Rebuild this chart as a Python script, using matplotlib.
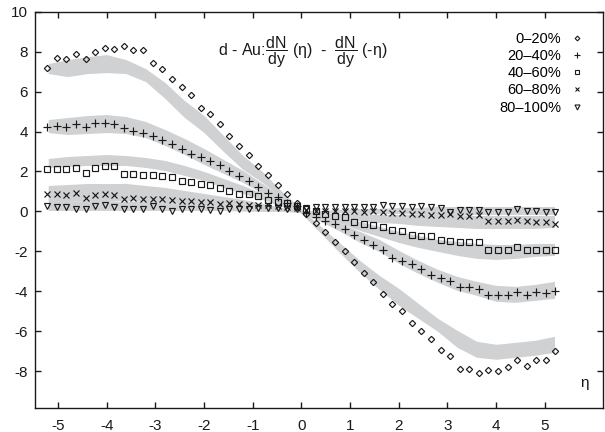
import matplotlib
matplotlib.use("Agg")
import matplotlib.pyplot as plt
from matplotlib.lines import Line2D

plt.rcParams["font.family"] = ["Liberation Sans", "DejaVu Sans"]
plt.rcParams["mathtext.fontset"] = "custom"
plt.rcParams["mathtext.rm"] = "Liberation Sans"
plt.rcParams["mathtext.it"] = "Liberation Sans:italic"
plt.rcParams["axes.unicode_minus"] = False

# pseudorapidity of the measured points
eta = [-5.22, -5.02, -4.83, -4.63, -4.43, -4.24, -4.04, -3.84, -3.65, -3.45,
       -3.25, -3.05, -2.86, -2.66, -2.46, -2.27, -2.07, -1.87, -1.67, -1.48,
       -1.28, -1.08, -0.89, -0.69, -0.49, -0.30, -0.10,
       0.10, 0.30, 0.49, 0.69, 0.89, 1.08, 1.28, 1.48, 1.67, 1.87,
       2.07, 2.27, 2.46, 2.66, 2.86, 3.05, 3.25, 3.45, 3.65, 3.84,
       4.04, 4.24, 4.43, 4.63, 4.83, 5.02, 5.22]

c0_20 = [7.20, 7.67, 7.64, 7.90, 7.64, 7.97, 8.20, 8.14, 8.30, 8.10,
         8.10, 7.43, 7.13, 6.63, 6.22, 5.82, 5.18, 4.87, 4.37, 3.76,
         3.29, 2.82, 2.25, 1.81, 1.30, 0.88, 0.42,
         -0.13, -0.58, -1.05, -1.52, -1.98, -2.55, -3.08, -3.54, -4.11, -4.64,
         -4.96, -5.57, -5.97, -6.39, -6.91, -7.23, -7.90, -7.87, -8.09, -7.95,
         -8.00, -7.79, -7.45, -7.74, -7.45, -7.45, -7.00]
c20_40 = [4.25, 4.30, 4.25, 4.37, 4.25, 4.42, 4.42, 4.39, 4.17, 4.05,
          3.93, 3.79, 3.60, 3.39, 3.15, 2.90, 2.75, 2.55, 2.30, 2.02,
          1.78, 1.50, 1.20, 0.90, 0.72, 0.44, 0.25,
          -0.10, -0.28, -0.46, -0.61, -0.87, -1.17, -1.44, -1.69, -1.93, -2.31,
          -2.47, -2.65, -2.88, -3.16, -3.35, -3.49, -3.77, -3.80, -3.90, -4.17,
          -4.20, -4.20, -4.02, -4.17, -4.02, -4.08, -4.00]
c40_60 = [2.12, 2.12, 2.10, 2.15, 1.94, 2.15, 2.25, 2.25, 1.88, 1.88,
          1.84, 1.82, 1.78, 1.73, 1.52, 1.47, 1.39, 1.30, 1.17, 1.00,
          0.88, 0.88, 0.77, 0.55, 0.49, 0.40, 0.25,
          0.10, 0.04, -0.13, -0.21, -0.29, -0.52, -0.63, -0.68, -0.80, -0.92,
          -0.97, -1.19, -1.22, -1.25, -1.45, -1.50, -1.55, -1.55, -1.55, -1.95,
          -1.95, -1.95, -1.80, -1.92, -1.92, -1.92, -1.92]
c60_80 = [0.88, 0.88, 0.80, 0.92, 0.67, 0.80, 0.88, 0.80, 0.63, 0.67,
          0.63, 0.60, 0.60, 0.55, 0.50, 0.50, 0.46, 0.46, 0.38, 0.42,
          0.38, 0.33, 0.30, 0.30, 0.26, 0.22, 0.18,
          0.05, 0.00, 0.00, 0.00, 0.00, 0.00, -0.02, 0.00, -0.05, -0.08,
          -0.08, -0.13, -0.13, -0.18, -0.18, -0.13, -0.21, -0.23, -0.18, -0.46,
          -0.46, -0.46, -0.41, -0.50, -0.55, -0.55, -0.63]
c80_100 = [0.27, 0.23, 0.23, 0.10, 0.10, 0.27, 0.33, 0.23, 0.13, 0.13,
           0.13, 0.27, 0.10, 0.00, 0.13, 0.13, 0.13, 0.09, 0.04, 0.13,
           0.13, 0.13, 0.16, 0.16, 0.16, 0.13, 0.13,
           0.15, 0.20, 0.20, 0.20, 0.20, 0.20, 0.20, 0.20, 0.30, 0.25,
           0.25, 0.21, 0.26, 0.21, 0.16, -0.04, 0.09, 0.09, 0.09, -0.04,
           -0.01, -0.01, 0.12, 0.04, 0.04, -0.01, -0.04]

# model bands (grey), coarser eta grid
band_eta = [-5.2, -4.8, -4.4, -4.0, -3.6, -3.2, -2.8, -2.4, -2.0, -1.6, -1.2, -0.8, -0.4,
            0.0, 0.4, 0.8, 1.2, 1.6, 2.0, 2.4, 2.8, 3.2, 3.6, 4.0, 4.4, 4.8, 5.2]
b0_20_hi = [7.40, 7.60, 7.75, 7.85, 7.60, 7.15, 6.45, 5.55, 4.80, 3.80, 2.80, 2.00, 1.00,
            0.10, -0.75, -1.60, -2.45, -3.20, -3.85, -4.60, -5.35, -5.95, -6.50, -6.65, -6.55, -6.45, -6.25]
b0_20_lo = [6.90, 6.75, 6.90, 6.95, 6.90, 6.50, 5.65, 4.70, 3.95, 3.00, 2.10, 1.45, 0.65,
            -0.10, -1.10, -2.10, -3.05, -3.90, -4.70, -5.35, -6.00, -6.80, -7.30, -7.40, -7.30, -7.20, -7.05]
b20_40_hi = [4.60, 4.70, 4.80, 4.85, 4.75, 4.50, 4.10, 3.65, 3.15, 2.60, 2.05, 1.40, 0.70,
             0.10, -0.25, -0.60, -1.00, -1.40, -1.95, -2.45, -2.90, -3.25, -3.50, -3.70, -3.75, -3.65, -3.50]
b20_40_lo = [3.95, 3.85, 3.90, 3.95, 3.90, 3.70, 3.30, 2.85, 2.35, 1.90, 1.45, 0.90, 0.40,
             -0.10, -0.50, -1.00, -1.55, -2.00, -2.60, -3.10, -3.55, -3.95, -4.20, -4.50, -4.55, -4.45, -4.35]
b40_60_hi = [2.65, 2.75, 2.80, 2.85, 2.80, 2.70, 2.55, 2.30, 2.00, 1.65, 1.30, 0.90, 0.45,
             0.05, -0.10, -0.30, -0.50, -0.75, -1.00, -1.20, -1.40, -1.50, -1.60, -1.65, -1.65, -1.60, -1.60]
b40_60_lo = [2.20, 2.25, 2.30, 2.30, 2.30, 2.20, 2.05, 1.80, 1.55, 1.20, 0.90, 0.60, 0.25,
             -0.05, -0.30, -0.60, -0.95, -1.25, -1.55, -1.80, -2.00, -2.20, -2.35, -2.40, -2.35, -2.25, -2.20]
b60_80_hi = [1.30, 1.35, 1.40, 1.40, 1.40, 1.30, 1.20, 1.05, 0.90, 0.75, 0.60, 0.40, 0.20,
             0.05, -0.05, -0.10, -0.10, -0.15, -0.15, -0.15, -0.15, -0.15, -0.20, -0.20, -0.20, -0.20, -0.20]
b60_80_lo = [0.50, 0.50, 0.55, 0.55, 0.55, 0.50, 0.45, 0.40, 0.35, 0.30, 0.25, 0.15, 0.05,
             -0.05, -0.20, -0.35, -0.45, -0.55, -0.60, -0.70, -0.75, -0.80, -0.85, -0.85, -0.85, -0.85, -0.80]
b80_100_hi = [0.50, 0.50, 0.55, 0.55, 0.50, 0.50, 0.45, 0.40, 0.35, 0.30, 0.25, 0.15, 0.10,
              0.05, 0.05, 0.10, 0.15, 0.15, 0.20, 0.20, 0.25, 0.25, 0.25, 0.25, 0.25, 0.25, 0.25]
b80_100_lo = [0.05, 0.05, 0.05, 0.05, 0.05, 0.05, 0.05, 0.05, 0.05, 0.05, 0.02, 0.00, 0.00,
              -0.05, -0.05, -0.05, -0.10, -0.10, -0.10, -0.15, -0.15, -0.15, -0.15, -0.15, -0.15, -0.15, -0.15]

labels = ["0\u201320%", "20\u201340%", "40\u201360%", "60\u201380%", "80\u2013100%"]
series = [c0_20, c20_40, c40_60, c60_80, c80_100]
bands = [(b0_20_lo, b0_20_hi), (b20_40_lo, b20_40_hi), (b40_60_lo, b40_60_hi),
         (b60_80_lo, b60_80_hi), (b80_100_lo, b80_100_hi)]
markers = ["D", "+", "s", "x", "v"]
msizes = [3.2, 6.0, 4.2, 3.8, 4.8]
BAND = "#d0d1d3"
INK = "#1a1a1a"

fig = plt.figure(figsize=(6.05, 4.32), dpi=100)
ax = fig.add_axes([0.058, 0.055, 0.939, 0.918])

for lo, hi in bands:
    ax.fill_between(band_eta, lo, hi, color=BAND, linewidth=0, zorder=1)

handles = []
for vals, m, ms, lab in zip(series, markers, msizes, labels):
    ax.plot(eta, vals, linestyle="none", marker=m, markersize=ms,
            markerfacecolor="none", markeredgecolor=INK, markeredgewidth=0.85, zorder=3)
    handles.append(Line2D([], [], linestyle="none", marker=m, markersize=ms * 0.75,
                          markerfacecolor="none", markeredgecolor=INK,
                          markeredgewidth=0.8, label=lab))

ax.set_xlim(-5.47, 6.2)
ax.set_ylim(-9.85, 10)
ax.set_xticks([-5, -4, -3, -2, -1, 0, 1, 2, 3, 4, 5])
ax.set_yticks([-8, -6, -4, -2, 0, 2, 4, 6, 8, 10])
ax.tick_params(direction="in", length=4, width=1, top=True, right=True,
               labelsize=11, colors=INK)
ax.tick_params(axis="x", pad=8)
ax.tick_params(axis="y", pad=5)
for s in ax.spines.values():
    s.set_linewidth(1.0)
    s.set_color(INK)

frac = r"$\dfrac{\mathrm{dN}}{\mathrm{dy}}$"
formula = "d - Au:" + frac + " (\u03b7)  -  " + frac + " (-\u03b7)"
ax.text(-1.72, 8.0, formula, fontsize=11.5, va="center", ha="left", color=INK)
ax.text(5.82, -8.6, "\u03b7", fontsize=11, ha="center", va="center", color=INK)

ax.legend(handles=handles, loc="upper right", bbox_to_anchor=(0.985, 0.975),
          frameon=False, markerfirst=False, fontsize=10.5, handlelength=1.0,
          handletextpad=0.6, labelspacing=0.22, borderaxespad=0.3)

fig.savefig("out.png", dpi=100)
